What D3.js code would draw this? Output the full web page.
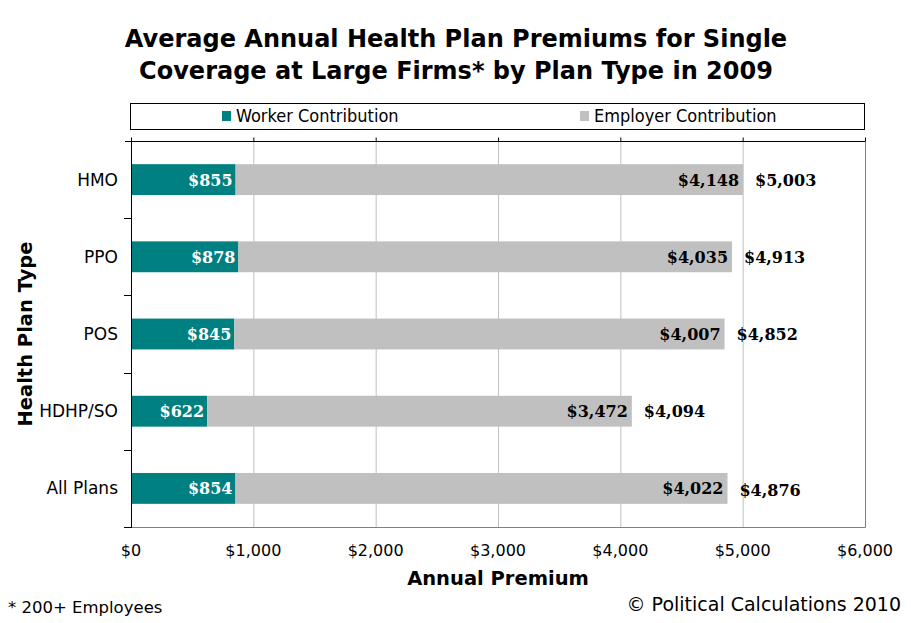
<!DOCTYPE html>
<html>
<head>
<meta charset="utf-8">
<script src="https://cdn.jsdelivr.net/npm/d3@7"></script>
<style>
  body { margin: 0; background: #fff; }
  svg { display: block; }
</style>
</head>
<body>
<div id="chart"></div>
<script>
const planTypes = ['HMO', 'PPO', 'POS', 'HDHP/SO', 'All Plans'];
const workerContribution = [855, 878, 845, 622, 854];
const employerContribution = [4148, 4035, 4007, 3472, 4022];
const totalPremium = [5003, 4913, 4852, 4094, 4876];
const xTicks = [0, 1000, 2000, 3000, 4000, 5000, 6000];

const width = 911, height = 623;
const plotLeft = 131, plotRight = 865, plotTop = 141, plotBottom = 527;

const svg = d3.select('#chart').append('svg')
    .attr('width', width)
    .attr('height', height);

const x = d3.scaleLinear().domain([0, 6000]).range([plotLeft, plotRight]);
const y = d3.scaleBand().domain(planTypes).range([plotTop, plotBottom]).paddingInner(0.6).paddingOuter(0.3);
const money = d3.format('$,');

// title
svg.append('text')
    .attr('x', 456).attr('y', 47)
    .attr('text-anchor', 'middle')
    .style('font', 'bold 24px "DejaVu Sans"')
    .text('Average Annual Health Plan Premiums for Single');
svg.append('text')
    .attr('x', 456).attr('y', 79)
    .attr('text-anchor', 'middle')
    .style('font', 'bold 24px "DejaVu Sans"')
    .text('Coverage at Large Firms* by Plan Type in 2009');

// legend
svg.append('rect')
    .attr('x', 130.5).attr('y', 103.5).attr('width', 734).attr('height', 26)
    .attr('fill', '#fff').attr('stroke', '#000');
const legend = [['Worker Contribution', '#008080', 222], ['Employer Contribution', '#c0c0c0', 580]];
legend.forEach(([label, color, lx]) => {
    svg.append('rect').attr('x', lx).attr('y', 111).attr('width', 9).attr('height', 10).attr('fill', color);
    svg.append('text').attr('x', lx + 14).attr('y', 122)
        .style('font', '18px "DejaVu Sans Condensed", sans-serif')
        .text(label);
});

// gridlines
svg.append('g').selectAll('line')
    .data(xTicks.slice(1, -1))
    .join('line')
    .attr('x1', d => x(d) + 0.5).attr('x2', d => x(d) + 0.5)
    .attr('y1', plotTop).attr('y2', plotBottom)
    .attr('stroke', '#c0c0c0');

// plot border (right and bottom gray)
svg.append('path')
    .attr('d', `M${plotRight + 0.5},${plotTop} V${plotBottom + 0.5} H${plotLeft}`)
    .attr('fill', 'none').attr('stroke', '#808080');

// top axis with upward ticks
svg.append('g')
    .attr('transform', `translate(0,${plotTop + 0.5})`)
    .call(d3.axisTop(x).tickValues(xTicks).tickSize(4).tickFormat(''))
    .call(g => g.select('.domain').attr('d', `M${plotLeft - 6},0 H${plotRight}`));

// left axis with ticks at category boundaries
const bounds = d3.range(planTypes.length + 1).map(i => plotTop + i * (plotBottom - plotTop) / planTypes.length);
const leftAxis = svg.append('g');
leftAxis.append('line')
    .attr('x1', plotLeft + 0.5).attr('x2', plotLeft + 0.5)
    .attr('y1', plotTop).attr('y2', plotBottom + 1)
    .attr('stroke', '#000');
leftAxis.selectAll('.tk').data(bounds.slice(1))
    .join('line')
    .attr('x1', plotLeft - 7).attr('x2', plotLeft)
    .attr('y1', d => Math.round(d) + 0.5).attr('y2', d => Math.round(d) + 0.5)
    .attr('stroke', '#000');

// category labels
svg.append('g').selectAll('text')
    .data(planTypes)
    .join('text')
    .attr('x', 118)
    .attr('y', d => y(d) + y.bandwidth() / 2 + 6)
    .attr('text-anchor', 'end')
    .style('font', '17px "DejaVu Sans"')
    .text(d => d);

// x tick labels
svg.append('g').selectAll('text')
    .data(xTicks)
    .join('text')
    .attr('x', d => x(d))
    .attr('y', 556)
    .attr('text-anchor', 'middle')
    .style('font', '16px "DejaVu Sans"')
    .text(d => money(d));

// bars
const rows = planTypes.map((p, i) => ({
    p, w: workerContribution[i], e: employerContribution[i], t: totalPremium[i]
}));
const bars = svg.append('g');
bars.selectAll('.worker').data(rows).join('rect')
    .attr('x', x(0) + 1)
    .attr('y', d => y(d.p))
    .attr('width', d => x(d.w) - x(0) - 1)
    .attr('height', y.bandwidth())
    .attr('fill', '#008080');
bars.selectAll('.employer').data(rows).join('rect')
    .attr('x', d => x(d.w))
    .attr('y', d => y(d.p))
    .attr('width', d => x(d.w + d.e) - x(d.w))
    .attr('height', y.bandwidth())
    .attr('fill', '#c0c0c0');

const labelFont = 'bold 16px "DejaVu Serif"';
bars.selectAll('.wl').data(rows).join('text')
    .attr('x', d => x(d.w) - 3)
    .attr('y', d => y(d.p) + y.bandwidth() / 2 + 6)
    .attr('text-anchor', 'end')
    .attr('fill', '#fff')
    .style('font', labelFont)
    .text(d => money(d.w));
bars.selectAll('.el').data(rows).join('text')
    .attr('x', d => x(d.w + d.e) - 4)
    .attr('y', d => y(d.p) + y.bandwidth() / 2 + 6)
    .attr('text-anchor', 'end')
    .attr('fill', '#000')
    .style('font', labelFont)
    .text(d => money(d.e));
bars.selectAll('.tl').data(rows).join('text')
    .attr('x', d => x(d.t) + 12)
    .attr('y', (d, i) => y(d.p) + y.bandwidth() / 2 + (i === rows.length - 1 ? 8 : 6))
    .attr('fill', '#000')
    .style('font', labelFont)
    .text(d => money(d.t));

// axis titles
svg.append('text')
    .attr('x', (plotLeft + plotRight) / 2).attr('y', 585)
    .attr('text-anchor', 'middle')
    .style('font', 'bold 19.5px "DejaVu Sans"')
    .text('Annual Premium');
svg.append('text')
    .attr('transform', `translate(32,${(plotTop + plotBottom) / 2 - 0}) rotate(-90)`)
    .attr('text-anchor', 'middle')
    .style('font', 'bold 19.5px "DejaVu Sans"')
    .text('Health Plan Type');

// footnotes
svg.append('text')
    .attr('x', 8).attr('y', 613)
    .style('font', '16.5px "DejaVu Sans"')
    .text('* 200+ Employees');
svg.append('text')
    .attr('x', 901).attr('y', 611)
    .attr('text-anchor', 'end')
    .style('font', '19px "DejaVu Sans"')
    .text('© Political Calculations 2010');
</script>
</body>
</html>
